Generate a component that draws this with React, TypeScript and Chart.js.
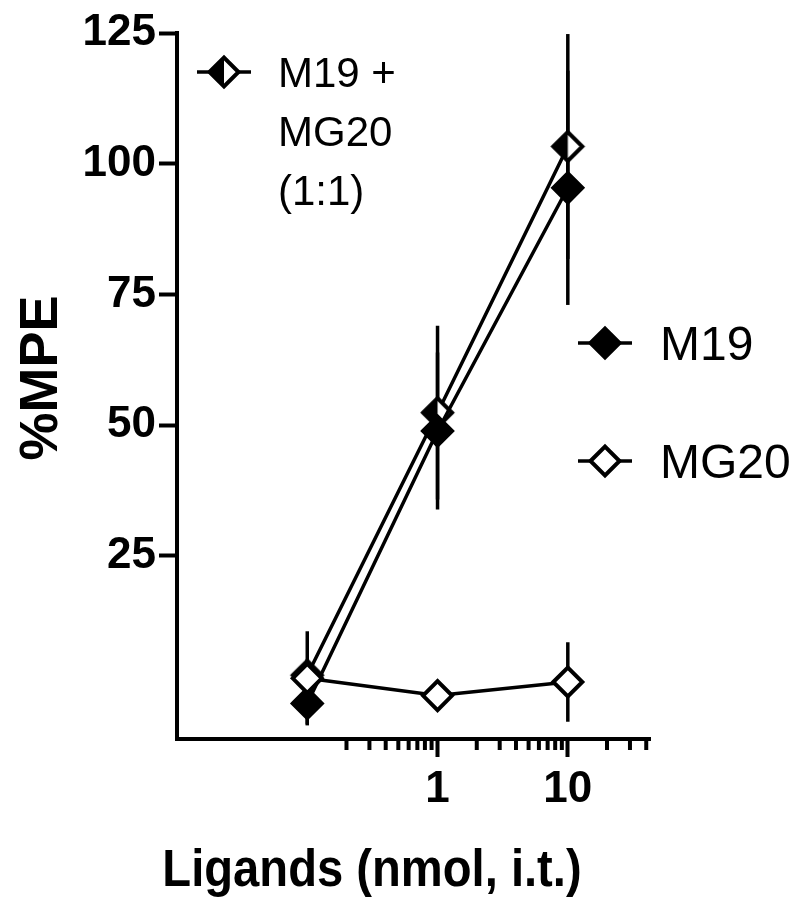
import React, { useEffect, useRef } from 'react';
import { Chart, registerables } from 'chart.js';

Chart.register(...registerables);

// ---- data ----
const doses = [0.1, 1, 10];
const m19Mean = [-3.2, 48.9, 95.4];
const m19Err = [4, 15, 22.4];
const mg20Mean = [1.6, -1.7, 0.9];
const mg20Err = [9, 2, 7.6];
const comboMean = [2.2, 52.4, 103.3];
const comboErr = [3, 16.6, 21.5];
const seriesNames = ['M19', 'MG20', 'M19 + MG20 (1:1)'];
const comboLegendLines = ['M19 +', 'MG20', '(1:1)'];
const yTicks = [25, 50, 75, 100, 125];
const xMajorTicks = [1, 10];
const xMinorTicks = [0.2, 0.3, 0.4, 0.5, 0.6, 0.7, 0.8, 0.9, 2, 3, 4, 5, 6, 7, 8, 9, 20, 30, 40];
const xTitle = 'Ligands (nmol, i.t.)';
const yTitle = '%MPE';

const FONT = '"Liberation Sans", Arial, Helvetica, sans-serif';
const R = 14.5;

function diamondPath(ctx: CanvasRenderingContext2D, x: number, y: number, r: number) {
  ctx.beginPath();
  ctx.moveTo(x - r, y);
  ctx.lineTo(x, y - r);
  ctx.lineTo(x + r, y);
  ctx.lineTo(x, y + r);
  ctx.closePath();
}

function drawMarker(ctx: CanvasRenderingContext2D, kind: string, x: number, y: number, r: number) {
  ctx.save();
  ctx.lineWidth = 4;
  ctx.lineJoin = 'miter';
  ctx.strokeStyle = '#000';
  if (kind === 'half') {
    diamondPath(ctx, x, y, r);
    ctx.fillStyle = '#fff';
    ctx.fill();
    ctx.beginPath();
    ctx.moveTo(x - r, y);
    ctx.lineTo(x, y - r);
    ctx.lineTo(x, y + r);
    ctx.closePath();
    ctx.fillStyle = '#000';
    ctx.fill();
    diamondPath(ctx, x, y, r);
    ctx.stroke();
  } else {
    diamondPath(ctx, x, y, r);
    ctx.fillStyle = kind === 'filled' ? '#000' : '#fff';
    ctx.fill();
    ctx.stroke();
  }
  ctx.restore();
}

function makeHalfDiamond(): HTMLCanvasElement {
  const c = document.createElement('canvas');
  const s = 2 * (R + 4);
  c.width = s;
  c.height = s;
  const ctx = c.getContext('2d')!;
  drawMarker(ctx, 'half', s / 2, s / 2, R);
  return c;
}

const pts = (means: number[]) => doses.map((d, i) => ({ x: d, y: means[i] }));

const extrasPlugin = {
  id: 'extras',
  beforeDatasetsDraw(chart: any) {
    const { ctx, chartArea } = chart;
    const xs = chart.scales.x;
    const ys = chart.scales.y;
    ctx.save();
    // axes lines
    ctx.strokeStyle = '#000';
    ctx.lineWidth = 4;
    ctx.lineCap = 'square';
    ctx.beginPath();
    ctx.moveTo(chartArea.left, chartArea.top);
    ctx.lineTo(chartArea.left, chartArea.bottom);
    ctx.lineTo(chartArea.right, chartArea.bottom);
    ctx.stroke();
    // minor ticks
    ctx.lineCap = 'butt';
    xMinorTicks.forEach((v) => {
      const px = xs.getPixelForValue(v);
      ctx.beginPath();
      ctx.moveTo(px, chartArea.bottom);
      ctx.lineTo(px, chartArea.bottom + 11);
      ctx.stroke();
    });
    // error bars
    const errs = [mg20Err, m19Err, comboErr];
    const means = [mg20Mean, m19Mean, comboMean];
    ctx.lineWidth = 3.5;
    errs.forEach((e, si) => {
      doses.forEach((d, i) => {
        const px = xs.getPixelForValue(d);
        ctx.beginPath();
        ctx.moveTo(px, ys.getPixelForValue(means[si][i] + e[i]));
        ctx.lineTo(px, ys.getPixelForValue(means[si][i] - e[i]));
        ctx.stroke();
      });
    });
    ctx.restore();
  },
  afterDraw(chart: any) {
    const { ctx, chartArea } = chart;
    ctx.save();
    ctx.fillStyle = '#000';
    // y title
    ctx.save();
    ctx.translate(chartArea.left - 139, 378);
    ctx.rotate(-Math.PI / 2);
    ctx.font = `bold 54px ${FONT}`;
    ctx.textAlign = 'center';
    ctx.textBaseline = 'alphabetic';
    ctx.fillText(yTitle, 0, 0.358 * 54);
    ctx.restore();
    // x title
    ctx.save();
    ctx.translate(372, 868 + 0.358 * 51);
    ctx.scale(0.925, 1);
    ctx.font = `bold 51px ${FONT}`;
    ctx.textAlign = 'center';
    ctx.textBaseline = 'alphabetic';
    ctx.fillText(xTitle, 0, 0);
    ctx.restore();

    // legends
    const drawEntry = (kind: string, cx: number, cy: number) => {
      ctx.save();
      ctx.strokeStyle = '#000';
      ctx.lineWidth = 3.5;
      ctx.beginPath();
      ctx.moveTo(cx - 27, cy);
      ctx.lineTo(cx + 27, cy);
      ctx.stroke();
      ctx.restore();
      drawMarker(ctx, kind, cx, cy, R);
    };
    drawEntry('half', 224, 72);
    ctx.textAlign = 'left';
    ctx.font = `42px ${FONT}`;
    comboLegendLines.forEach((t, i) => {
      ctx.fillText(t, 278, 72 + i * 59 + 0.358 * 42);
    });
    drawEntry('filled', 605, 343);
    drawEntry('open', 605, 461);
    ctx.font = `48px ${FONT}`;
    ctx.fillText(seriesNames[0], 660, 343 + 0.358 * 48);
    ctx.fillText(seriesNames[1], 660, 461 + 0.358 * 48);
    ctx.restore();
  },
};

export default function App() {
  const ref = useRef<HTMLCanvasElement>(null);
  useEffect(() => {
    const half = makeHalfDiamond();
    const common = {
      borderColor: '#000',
      borderWidth: 3.5,
      pointRadius: R,
      pointHoverRadius: R,
      pointBorderColor: '#000',
      pointBorderWidth: 4,
      tension: 0,
      clip: false as any,
    };
    const chart = new Chart(ref.current!, {
      type: 'line',
      data: {
        datasets: [
          { ...common, label: seriesNames[1], data: pts(mg20Mean), pointStyle: 'rectRot', pointBackgroundColor: '#fff' },
          { ...common, label: seriesNames[0], data: pts(m19Mean), pointStyle: 'rectRot', pointBackgroundColor: '#000' },
          { ...common, label: seriesNames[2], data: pts(comboMean), pointStyle: half as any },
        ],
      },
      options: {
        responsive: false,
        animation: false,
        devicePixelRatio: 1,
        layout: { padding: { top: 33, right: 151, left: 0, bottom: 0 } },
        plugins: { legend: { display: false }, tooltip: { enabled: false } },
        scales: {
          x: {
            type: 'logarithmic',
            min: 0.01,
            max: 42,
            border: { display: false },
            grid: { drawOnChartArea: false, drawTicks: true, tickLength: 18, tickWidth: 4, tickColor: '#000' },
            ticks: {
              autoSkip: false,
              maxRotation: 0,
              padding: 6,
              color: '#000',
              font: { family: FONT, size: 44, weight: 'bold' },
              callback: (v: any) => String(v),
            },
            afterBuildTicks: (s: any) => {
              s.ticks = xMajorTicks.map((v) => ({ value: v }));
            },
            afterFit: (s: any) => {
              s.height = 183;
            },
          },
          y: {
            type: 'linear',
            min: -10,
            max: 125,
            border: { display: false },
            grid: { drawOnChartArea: false, drawTicks: true, tickLength: 18, tickWidth: 4, tickColor: '#000' },
            ticks: {
              padding: 3,
              color: '#000',
              font: { family: FONT, size: 44, weight: 'bold' },
            },
            afterBuildTicks: (s: any) => {
              s.ticks = yTicks.map((v) => ({ value: v }));
            },
            afterFit: (s: any) => {
              s.width = 177;
            },
          },
        },
      },
      plugins: [extrasPlugin],
    });
    return () => chart.destroy();
  }, []);
  return (
    <div style={{ position: 'fixed', left: 0, top: 0, width: 800, height: 922, background: '#fff' }}>
      <canvas ref={ref} width={800} height={922} />
    </div>
  );
}
